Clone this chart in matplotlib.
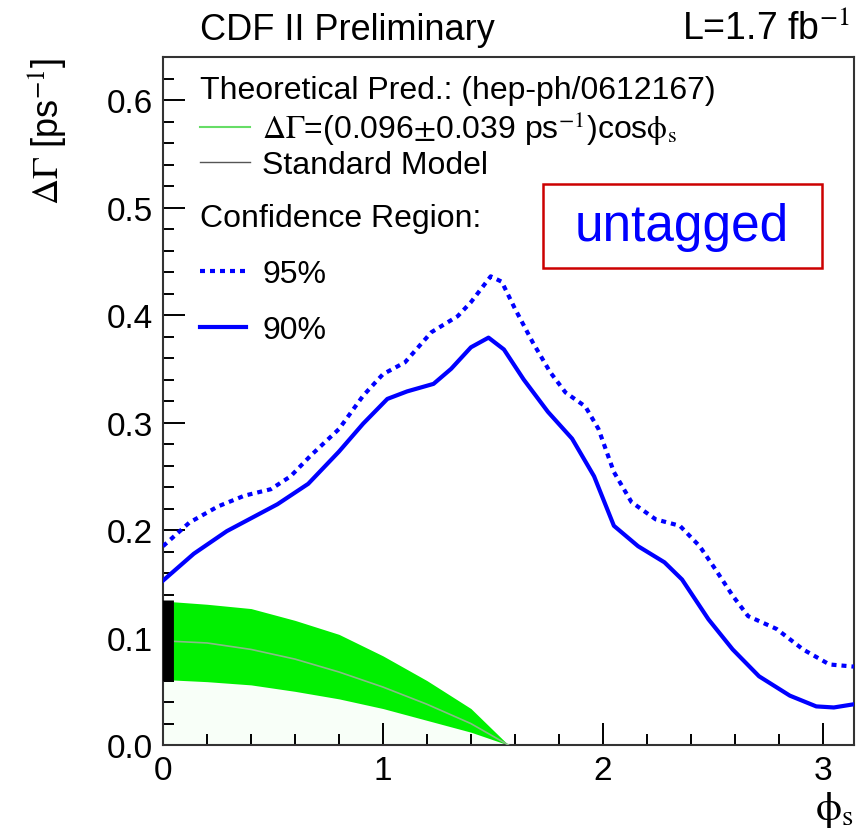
import numpy as np
import matplotlib
matplotlib.use("Agg")
import matplotlib.pyplot as plt
from matplotlib.lines import Line2D
from matplotlib.patches import Rectangle
from matplotlib.ticker import MultipleLocator, FormatStrFormatter

plt.rcParams['font.family'] = ['Liberation Sans', 'DejaVu Sans']
plt.rcParams['mathtext.fontset'] = 'stix'

# 95% contour (dotted)
phi_95 = [0, 0.12, 0.25, 0.37, 0.49, 0.58, 0.67, 0.80, 0.91, 1.00, 1.10, 1.22, 1.34,
          1.40, 1.49, 1.54, 1.60, 1.68, 1.76, 1.83, 1.92, 1.98, 2.05, 2.13, 2.24,
          2.35, 2.44, 2.51, 2.59, 2.66, 2.79, 2.91, 3.03, 3.1416]
dg_95 = [0.185, 0.207, 0.222, 0.232, 0.238, 0.250, 0.269, 0.294, 0.325, 0.345, 0.356, 0.384, 0.399,
         0.412, 0.436, 0.431, 0.406, 0.375, 0.347, 0.328, 0.315, 0.294, 0.254, 0.226, 0.210,
         0.204, 0.185, 0.164, 0.139, 0.120, 0.108, 0.089, 0.075, 0.073]

# 90% contour (solid)
phi_90 = [0, 0.14, 0.29, 0.52, 0.66, 0.80, 0.91, 1.02, 1.11, 1.23, 1.31, 1.40, 1.48,
          1.55, 1.64, 1.75, 1.86, 1.96, 2.05, 2.16, 2.28, 2.36, 2.48, 2.59, 2.71,
          2.85, 2.97, 3.05, 3.1416]
dg_90 = [0.153, 0.178, 0.199, 0.224, 0.243, 0.273, 0.299, 0.322, 0.329, 0.336, 0.350, 0.370, 0.379,
         0.368, 0.340, 0.310, 0.285, 0.250, 0.204, 0.185, 0.170, 0.154, 0.117, 0.089, 0.064,
         0.046, 0.036, 0.035, 0.038]

# theory band  dG = (0.096 +- 0.039) cos(phi)
band_phi = [0, 0.2, 0.4, 0.6, 0.8, 1.0, 1.2, 1.4, 1.571]
band_hi = [0.134, 0.131, 0.127, 0.116, 0.103, 0.083, 0.060, 0.034, 0.0]
band_lo = [0.061, 0.059, 0.056, 0.050, 0.043, 0.034, 0.023, 0.012, 0.0]
band_mid = [0.097, 0.095, 0.089, 0.080, 0.068, 0.054, 0.038, 0.020, 0.0]

# standard model point
sm_phi = 0.0
sm_lo, sm_hi = 0.060, 0.135

fig = plt.figure(figsize=(8.58, 8.29), dpi=100)
ax = fig.add_axes([0.19, 0.100, 0.8053, 0.830])

ax.fill_between(band_phi, 0, band_lo, color='#f8fff8', lw=0, zorder=1)
ax.fill_between(band_phi, band_lo, band_hi, color='#00f000', lw=0, zorder=2)
ax.plot(band_phi, band_mid, color='#88bb88', lw=1.2, zorder=3)
ax.vlines(sm_phi, sm_lo, sm_hi, color='black', lw=15, zorder=4)

ax.plot(phi_95, dg_95, color='#0000ff', lw=3, ls=(0, (1.2, 1.2)), zorder=5)
ax.plot(phi_90, dg_90, color='#0000ff', lw=3, zorder=5)

ax.set_xlim(0, 3.1416)
ax.set_ylim(0, 0.64)
ax.xaxis.set_major_locator(MultipleLocator(1))
ax.xaxis.set_minor_locator(MultipleLocator(0.2))
ax.yaxis.set_major_locator(MultipleLocator(0.1))
ax.yaxis.set_minor_locator(MultipleLocator(0.02))
ax.yaxis.set_major_formatter(FormatStrFormatter('%.1f'))
ax.tick_params(which='both', direction='in', top=False, right=False, width=1.4, labelsize=24)
ax.tick_params(which='major', length=16, pad=7)
ax.tick_params(which='minor', length=8)
for s in ax.spines.values():
    s.set_linewidth(1.5)
    s.set_color('#333333')

ax.set_ylabel(r'$\Delta\Gamma$ [ps$^{-1}$]', fontsize=26, loc='top')
ax.yaxis.set_label_coords(-0.137, 1.0)
ax.set_xlabel(r'$\mathrm{\phi}_\mathrm{s}$', fontsize=30, loc='right', labelpad=2)

# legends
h1 = [Line2D([], [], color='#66dd66', lw=1.5), Line2D([], [], color='#555555', lw=1)]
leg1 = ax.legend(h1, [r'$\Delta\Gamma$=(0.096$\pm$0.039 ps$^{-1}$)cos$\mathrm{\phi}_\mathrm{s}$',
                      'Standard Model'],
                 title='Theoretical Pred.: (hep-ph/0612167)', loc='upper left',
                 bbox_to_anchor=(200 / 858, 1 - 76 / 829), bbox_transform=fig.transFigure,
                 frameon=False, fontsize=23, title_fontsize=23, alignment='left',
                 handlelength=1.57, handletextpad=0.38, labelspacing=0.11,
                 borderpad=0, borderaxespad=0)
ax.add_artist(leg1)
h2 = [Line2D([], [], color='#0000ff', lw=3, ls=(0, (1.2, 1.2))), Line2D([], [], color='#0000ff', lw=3)]
leg2 = ax.legend(h2, ['95%', '90%'], title='Confidence Region:', loc='upper left',
                 bbox_to_anchor=(200 / 858, 1 - 204 / 829), bbox_transform=fig.transFigure,
                 frameon=False, fontsize=23, title_fontsize=23, alignment='left',
                 handlelength=1.45, handletextpad=0.5, labelspacing=0.81,
                 borderpad=0, borderaxespad=0)

# untagged box
fig.patches.append(Rectangle((543 / 858, 1 - 269 / 829), 279 / 858, 84 / 829,
                             transform=fig.transFigure, fill=False, ec='#cc0000', lw=1.8))
fig.text(682 / 858, 1 - 228 / 829, 'untagged', color='#0000ff', fontsize=37,
         ha='center', va='center')

fig.text(200 / 858, 1 - 30 / 829, 'CDF II Preliminary', fontsize=26, ha='left', va='center')
fig.text(850 / 858, 1 - 30 / 829, r'L=1.7 fb$^{-1}$', fontsize=27, ha='right', va='center')

fig.savefig('out.png', dpi=100)
